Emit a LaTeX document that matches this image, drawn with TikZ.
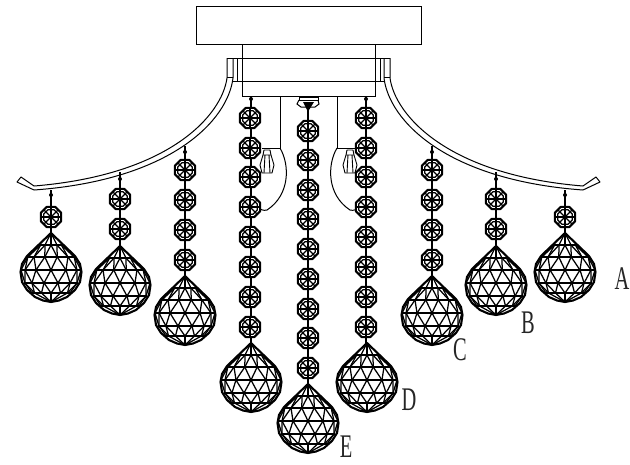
\documentclass[tikz,border=0pt]{standalone}
\usepackage{fontspec}
\setmainfont{Liberation Serif}
\tikzset{
  line/.style={draw=black,line width=1pt},
  thin line/.style={draw=black,line width=.9pt},
  mesh/.style={draw=black,line width=1.25pt},
  rim/.style={draw=black,line width=2.1pt,line join=round},
  tag/.style={font=\fontsize{33}{33}\selectfont,inner sep=0pt,text=black!85}
}
\newcommand\beadat[2]{%
  \begin{scope}[shift={(#1,#2)}]
    \fill[white] (22.5:11) \foreach \a in {67.5,112.5,...,337.5}{ -- (\a:11)} -- cycle;
    \draw[rim] (22.5:11) \foreach \a in {67.5,112.5,...,337.5}{ -- (\a:11)} -- cycle;
    \draw[line width=1.2pt] (22.5:7.8) \foreach \a in {67.5,112.5,...,337.5}{ -- (\a:7.8)} -- cycle;
    \foreach \a in {0,45,...,315}{\draw[line width=1.4pt] (0,0) -- (\a:10);}
    \fill (0,0) circle (2.2);
  \end{scope}}
\def\ballys{{0,12,24,37,50,60,69}}
\def\ballws{{0,12,24,30,27,19,0}}
\newcommand\ballat[2]{%
  \begin{scope}[shift={(#1,#2)}]
    \foreach \r in {0,...,6}{
      \foreach \t in {-6,...,6}{
        \pgfmathsetmacro\px{\ballws[\r]*sin(15*\t)}
        \pgfmathsetmacro\py{\ballys[\r]}
        \coordinate (p\r t\t) at (\px,\py);
      }}
    \fill[white] (p0t0) -- (p1t6) -- (p2t6) -- (p3t6) -- (p4t6) -- (p5t6) -- (p6t0) -- (p5t-6) -- (p4t-6) -- (p3t-6) -- (p2t-6) -- (p1t-6) -- cycle;
    \foreach \r in {1,...,5}{\draw[mesh] (p\r t-6) -- (p\r t6);}
    \draw[mesh] (p0t0) -- (p1t0);
    \foreach \t in {-2,2}{\draw[mesh] (p0t0) -- (p1t\t);}
    \foreach \t in {-4,-2,0,2,4}{\draw[mesh] (p6t0) -- (p5t\t);}
    \foreach \r/\s in {1/2,3/2,3/4,5/4}{
      \foreach \a/\b in {-6/-5,-4/-5,-4/-3,-2/-3,-2/-1,0/-1,0/1,2/1,2/3,4/3,4/5,6/5}{
        \draw[mesh] (p\r t\a) -- (p\s t\b);
      }}
    \draw[rim] (0,0) -- (24,23) -- (29,31) -- (30.5,39) -- (29,49) -- (24,57) -- (16,64) -- (8,67.5) -- (0,69) -- (-8,67.5) -- (-16,64) -- (-24,57) -- (-29,49) -- (-30.5,39) -- (-29,31) -- (-24,23) -- cycle;
  \end{scope}}
\newcommand\crystalat[2]{%
  \begin{scope}[shift={(#1,#2)}]
    \draw[thin line,line join=round] (-3,-13) -- (3,-13) -- (4,-8) -- (7,2) -- (5,10) -- (-5,10) -- (-7,2) -- (-4,-8) -- cycle;
    \draw[thin line] (-4,-8) -- (4,-8) (-2,-8) -- (-3,10) (2,-8) -- (3,10);
  \end{scope}}
\begin{document}
\begin{tikzpicture}[x=1pt,y=-1pt]
\useasboundingbox (0,0) rectangle (630,464);
\fill[white] (0,0) rectangle (630,464);
\draw[line] (196,6) rectangle (421,44);
\draw[line] (242,44) rectangle (375,96);
\draw[line] (227,58) -- (390,58);
\draw[line] (233,81) -- (384,81);
\draw[line] (237,58) -- (237,81) (380,58) -- (380,81);
\foreach \m/\o in {1/0,-1/617}{
\begin{scope}[shift={(\o,0)},xscale=\m]
  \draw[line,line join=round] (227,58) -- (227,78) .. controls (222,115) and (170,175) .. (34,186) -- (21,177) -- (17,182) -- (34,190) .. controls (172,180) and (228,120) .. (233,78) -- (233,58);
  \draw[line] (233,77) -- (227,77);
  \draw[line] (280,96) -- (280,148) -- (262,148);
  \draw[line] (280,148) .. controls (290,165) and (290,195) .. (267,210) .. controls (260,212) and (255,205) .. (251,195);
  \crystalat{267}{163}
\end{scope}}
\foreach \x/\top/\bot in {51/190/234, 120/172/247, 185/146/277, 251/96/344, 308/105/385, 366/96/344, 432/146/277, 496/172/247, 565/190/234}{
  \draw[line width=1.1pt] (\x,\top) -- (\x,\bot);
}
\foreach \x/\y in {51/195, 120/179, 185/152, 432/152, 496/179, 565/195, 251/99, 366/99}{
  \fill (\x,\y) circle (2);
}
\draw[line] (299,97) -- (318,97) -- (318,100) -- (299,100) -- cycle;
\draw[line] (299,100) -- (297,104) -- (301,107) -- (315,107) -- (319,104) -- (318,100);
\fill (303,102) -- (314,102) -- (309,110) -- (308,117) -- (307,110) -- cycle;
\foreach \x in {250,366}{\foreach \y in {118,148,177,207,237,267,297,327}{\beadat{\x}{\y}}}
\foreach \y in {131,160,190,219,249,279,309,338,368}{\beadat{308}{\y}}
\foreach \x in {185,432}{\foreach \y in {170,200,230,260}{\beadat{\x}{\y}}}
\foreach \x in {120,496}{\foreach \y in {199,229}{\beadat{\x}{\y}}}
\foreach \x in {51,565}{\beadat{\x}{217}}
\ballat{51}{233}
\ballat{120}{246}
\ballat{185}{276}
\ballat{251}{343}
\ballat{308}{384}
\ballat{367}{343}
\ballat{432}{276}
\ballat{496}{246}
\ballat{565}{233}
\node[tag] (lA) at (622,279) {\scalebox{.62}[1]{A}};
\node[tag] (lB) at (528,323) {\scalebox{.62}[1]{B}};
\node[tag] (lC) at (460,350) {\scalebox{.62}[1]{C}};
\node[tag] (lD) at (409,400) {\scalebox{.62}[1]{D}};
\node[tag] (lE) at (346,447) {\scalebox{.62}[1]{E}};
\end{tikzpicture}
\end{document}
